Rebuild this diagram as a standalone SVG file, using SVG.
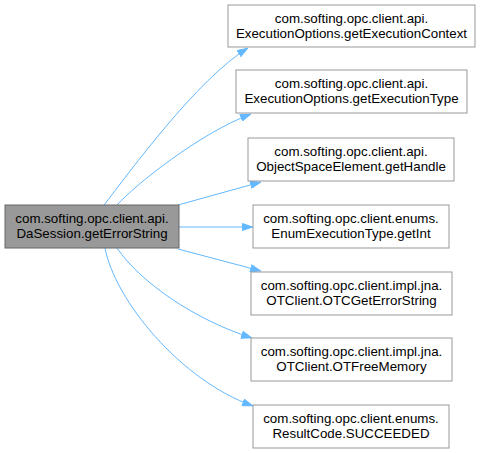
<svg xmlns="http://www.w3.org/2000/svg" width="481" height="453" viewBox="0 0 481 453">
<style>
.n rect{fill:#fff;stroke:#999;stroke-width:1}
#main rect{fill:#999;stroke:#666}
text{font-family:"Liberation Sans",Arial,sans-serif;font-size:13.33px;text-anchor:middle;fill:#000}
.e path{fill:none;stroke:#63b8ff;stroke-width:1}
</style>
<defs>
<marker id="a" viewBox="0 0 11 8" refX="11" refY="4" markerWidth="11" markerHeight="8" markerUnits="userSpaceOnUse" orient="auto">
<path d="M0.5,0.5 L10.5,4 L0.5,7.5 Z" fill="#63b8ff" stroke="#63b8ff"/>
</marker>
</defs>
<rect width="481" height="453" fill="#fff"/>
<g class="e">
<path d="M104,205 C129,173 197,79 248,48" marker-end="url(#a)"/>
<path d="M117,205 C135,185 200,133 251,114" marker-end="url(#a)"/>
<path d="M178,205 L261,182" marker-end="url(#a)"/>
<path d="M179,227 L253,227" marker-end="url(#a)"/>
<path d="M178,249 L261,271" marker-end="url(#a)"/>
<path d="M117,248 C140,282 195,320 252,338" marker-end="url(#a)"/>
<path d="M105,248 C115,300 180,380 253,406" marker-end="url(#a)"/>
</g>
<g id="main" class="n"><rect x="5" y="205" width="174" height="43"/><text x="92" y="223">com.softing.opc.client.api.</text><text x="92" y="238">DaSession.getErrorString</text></g>
<g id="n1" class="n"><rect x="228" y="5" width="247" height="42"/><text x="351.5" y="23">com.softing.opc.client.api.</text><text x="351.5" y="38">ExecutionOptions.getExecutionContext</text></g>
<g id="n2" class="n"><rect x="236" y="70" width="231" height="43"/><text x="351.5" y="88">com.softing.opc.client.api.</text><text x="351.5" y="103">ExecutionOptions.getExecutionType</text></g>
<g id="n3" class="n"><rect x="248" y="138" width="206" height="43"/><text x="351" y="156">com.softing.opc.client.api.</text><text x="351" y="171">ObjectSpaceElement.getHandle</text></g>
<g id="n4" class="n"><rect x="253" y="205" width="196" height="43"/><text x="351" y="223">com.softing.opc.client.enums.</text><text x="351" y="238">EnumExecutionType.getInt</text></g>
<g id="n5" class="n"><rect x="251" y="272" width="201" height="43"/><text x="351.5" y="290">com.softing.opc.client.impl.jna.</text><text x="351.5" y="305">OTClient.OTCGetErrorString</text></g>
<g id="n6" class="n"><rect x="251" y="338" width="201" height="43"/><text x="351.5" y="356">com.softing.opc.client.impl.jna.</text><text x="351.5" y="371">OTClient.OTFreeMemory</text></g>
<g id="n7" class="n"><rect x="253" y="405" width="196" height="43"/><text x="351" y="423">com.softing.opc.client.enums.</text><text x="351" y="438">ResultCode.SUCCEEDED</text></g>
</svg>
